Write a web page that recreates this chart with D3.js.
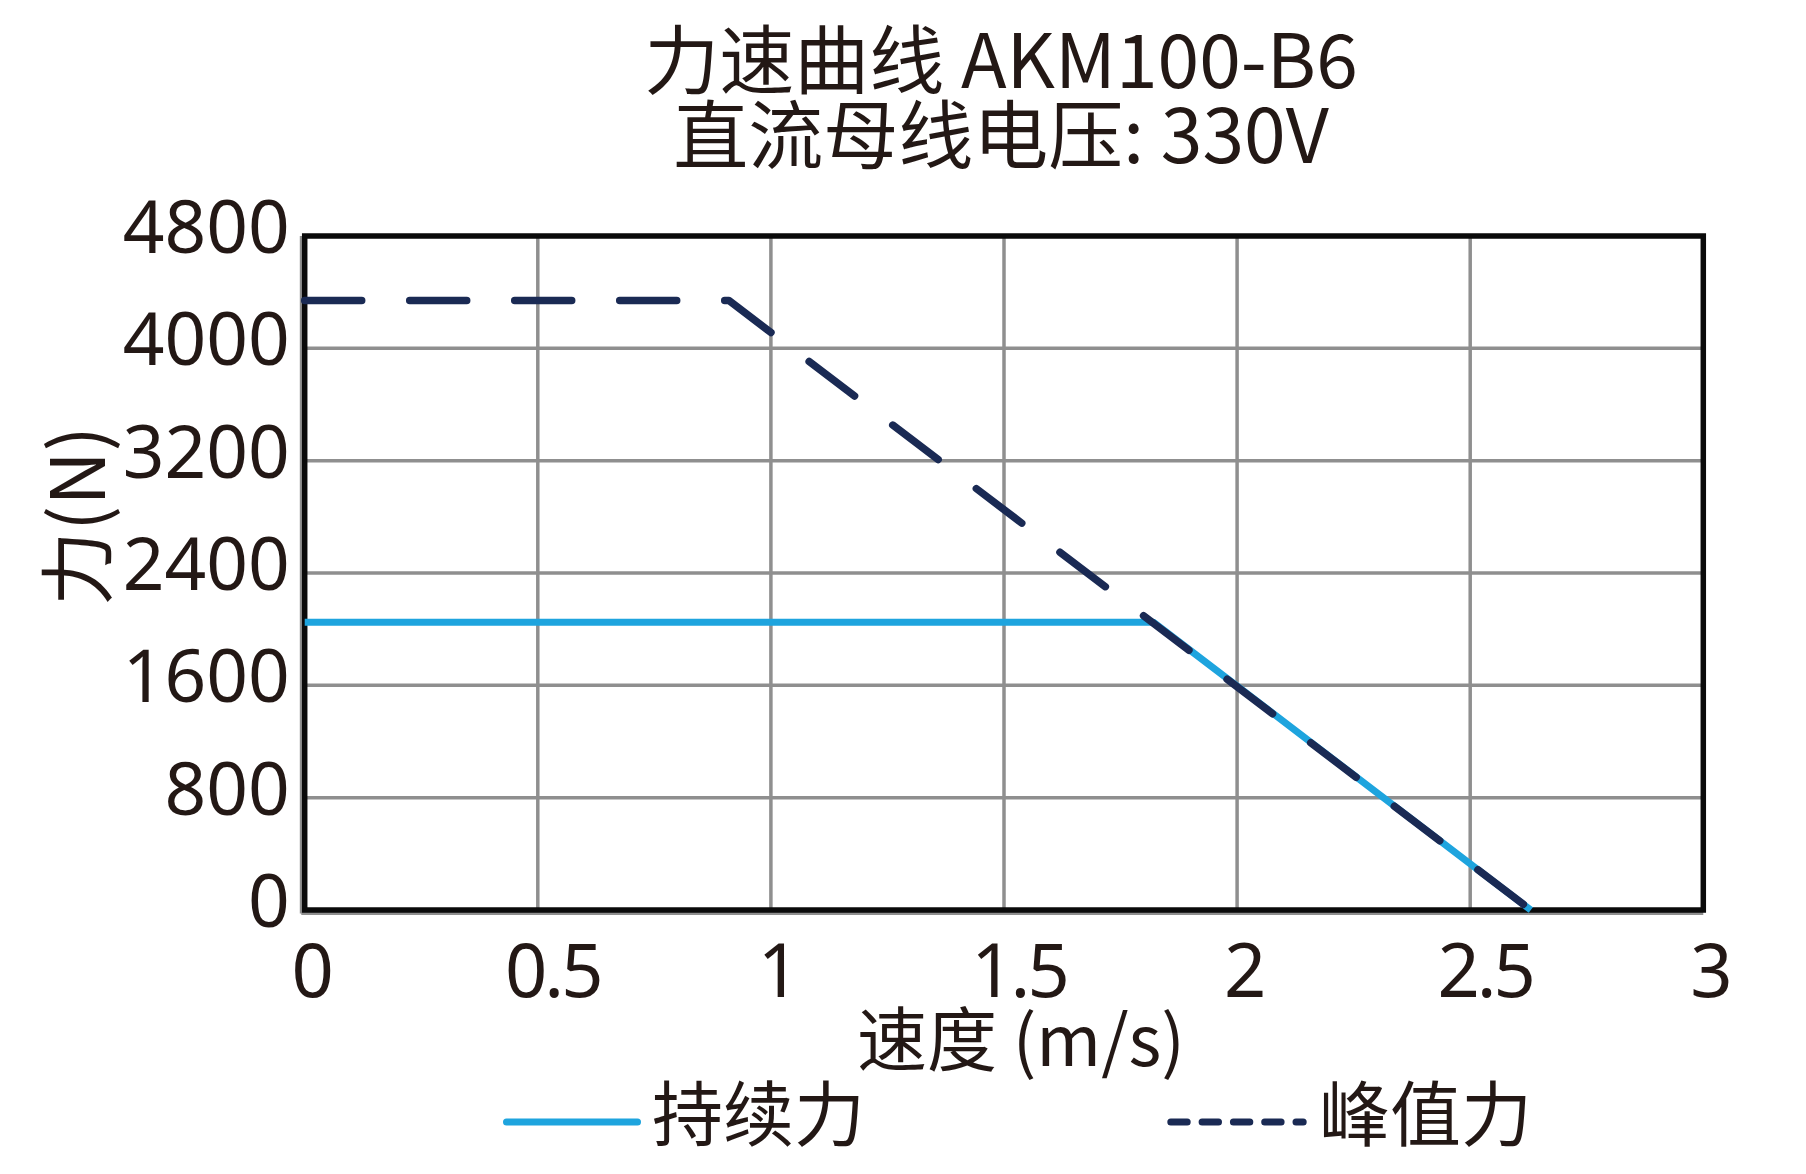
<!DOCTYPE html>
<html>
<head>
<meta charset="utf-8">
<script src="https://cdn.jsdelivr.net/npm/d3@7/dist/d3.min.js"></script>
<style>
  html, body { margin: 0; padding: 0; background: #ffffff; }
  svg { display: block; }
</style>
</head>
<body>
<svg id="chart" width="1806" height="1174"></svg>
<script>
// ---- data ----
const titleLines = ["力速曲线 AKM100-B6", "直流母线电压: 330V"];
const xTicks = [0, 0.5, 1, 1.5, 2, 2.5, 3];
const yTicks = [0, 800, 1600, 2400, 3200, 4000, 4800];
const continuousSpeed = [0, 1.82, 2.63];
const continuousForce = [2050, 2050, 0];
const peakSpeed = [0, 0.91, 2.63];
const peakForce = [4340, 4340, 0];
const seriesNames = ["持续力", "峰值力"];
const xAxisTitle = "速度 (m/s)";
const yAxisTitle = "力(N)";

// ---- layout ----
const plotLeft = 304.7, plotRight = 1703.3, plotTop = 236, plotBottom = 910;
const textColor = "#231815";
const blue = "#1ea4de";
const navy = "#1a2a54";
const gridColor = "#8f8f8f";
const cjk = "'Noto Sans CJK SC', 'Noto Sans', sans-serif";
const num = "'Noto Sans', 'Noto Sans CJK SC', sans-serif";

const svg = d3.select("#chart");
const x = d3.scaleLinear().domain([0, 3]).range([plotLeft, plotRight]);
const y = d3.scaleLinear().domain([0, 4800]).range([plotBottom, plotTop]);

// grid
const g = svg.append("g");
g.selectAll("line.vg").data(xTicks.filter(d => d > 0 && d < 3)).join("line")
  .attr("x1", d => x(d)).attr("x2", d => x(d))
  .attr("y1", plotTop).attr("y2", plotBottom)
  .attr("stroke", gridColor).attr("stroke-width", 3.5);
g.selectAll("line.hg").data(yTicks.filter(d => d > 0 && d < 4800)).join("line")
  .attr("x1", plotLeft).attr("x2", plotRight)
  .attr("y1", d => y(d)).attr("y2", d => y(d))
  .attr("stroke", gridColor).attr("stroke-width", 3.5);

// gray edge lines just outside frame
g.append("line").attr("x1", plotLeft - 3.4).attr("x2", plotLeft - 3.4).attr("y1", plotTop).attr("y2", plotBottom + 3.4)
  .attr("stroke", gridColor).attr("stroke-width", 3);
g.append("line").attr("x1", plotLeft - 3.4).attr("x2", plotRight).attr("y1", plotBottom + 3.4).attr("y2", plotBottom + 3.4)
  .attr("stroke", gridColor).attr("stroke-width", 3);

// frame
svg.append("rect").attr("x", plotLeft).attr("y", plotTop)
  .attr("width", plotRight - plotLeft).attr("height", plotBottom - plotTop)
  .attr("fill", "none").attr("stroke", "#0a0a0a").attr("stroke-width", 5.5);

// lines
const line = d3.line().x(d => x(d[0])).y(d => y(d[1]));
const contData = continuousSpeed.map((s, i) => [s, continuousForce[i]]);
const peakData = peakSpeed.map((s, i) => [s, peakForce[i]]);

svg.append("path").attr("d", line(contData))
  .attr("fill", "none").attr("stroke", blue).attr("stroke-width", 7)
  .attr("stroke-linejoin", "round");
svg.append("path").attr("d", line(peakData))
  .attr("fill", "none").attr("stroke", navy).attr("stroke-width", 7.5)
  .attr("stroke-linecap", "round").attr("stroke-linejoin", "round")
  .attr("stroke-dasharray", "57 48");

// y tick labels
svg.selectAll("text.yt").data(yTicks).join("text")
  .attr("x", plotLeft - 15).attr("y", d => y(d) + 17)
  .attr("text-anchor", "end")
  .attr("font-family", num).attr("font-size", 73)
  .attr("fill", textColor)
  .text(d => d);

// x tick labels
svg.selectAll("text.xt").data(xTicks).join("text")
  .attr("x", d => x(d) + (Number.isInteger(d) ? 8 : 15)).attr("y", 997)
  .attr("text-anchor", "middle")
  .attr("font-family", num).attr("font-size", 74)
  .attr("letter-spacing", d => Number.isInteger(d) ? 0 : -3)
  .attr("fill", textColor)
  .text(d => d);

// title
svg.selectAll("text.title").data(titleLines).join("text")
  .attr("x", 1001).attr("y", (d, i) => 55 + i * 75)
  .attr("text-anchor", "middle").attr("dominant-baseline", "central")
  .attr("font-family", cjk).attr("font-size", 75)
  .attr("fill", textColor)
  .text(d => d);

// axis titles
svg.append("text").attr("x", 1021).attr("y", 1035)
  .attr("text-anchor", "middle").attr("dominant-baseline", "central")
  .attr("font-family", cjk).attr("font-size", 70).attr("fill", textColor)
  .text(xAxisTitle);
svg.append("text")
  .attr("transform", "translate(72,516) rotate(-90)")
  .attr("text-anchor", "middle").attr("dominant-baseline", "central")
  .attr("font-family", cjk).attr("font-size", 75).attr("fill", textColor)
  .text(yAxisTitle);

// legend
const legY = 1122;
svg.append("line").attr("x1", 506.5).attr("x2", 637.5).attr("y1", legY).attr("y2", legY)
  .attr("stroke", blue).attr("stroke-width", 7).attr("stroke-linecap", "round");
svg.append("text").attr("x", 652).attr("y", 1108.5)
  .attr("dominant-baseline", "central")
  .attr("font-family", cjk).attr("font-size", 71).attr("fill", textColor)
  .text(seriesNames[0]);
svg.append("line").attr("x1", 1170.8).attr("x2", 1303.2).attr("y1", legY).attr("y2", legY)
  .attr("stroke", navy).attr("stroke-width", 7).attr("stroke-linecap", "round")
  .attr("stroke-dasharray", "16.4 14.9");
svg.append("text").attr("x", 1319).attr("y", 1108.5)
  .attr("dominant-baseline", "central")
  .attr("font-family", cjk).attr("font-size", 71).attr("fill", textColor)
  .text(seriesNames[1]);
</script>
</body>
</html>
